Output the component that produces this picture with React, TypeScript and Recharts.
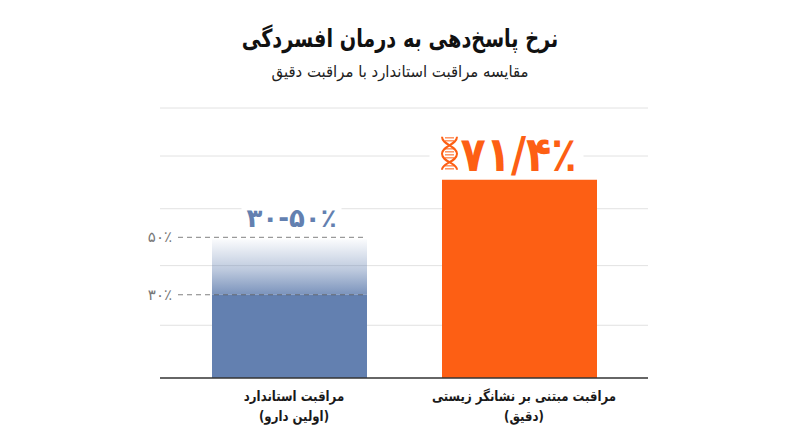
import React from 'react';
import { BarChart, Bar, XAxis, YAxis, CartesianGrid, ReferenceLine, LabelList, Cell } from 'recharts';

const titleText = 'نرخ پاسخ‌دهی به درمان افسردگی';
const subtitleText = 'مقایسه مراقبت استاندارد با مراقبت دقیق';
const categories = ['standard', 'precision'];
const categoryLines = [
  ['مراقبت استاندارد', '(اولین دارو)'],
  ['مراقبت مبتنی بر نشانگر زیستی', '(دقیق)'],
];
const baseValues = [30, 71.4];
const rangeValues = [20, 0];
const valueLabels = ['۳۰-۵۰٪', '۷۱/۴٪'];
const gridValues = [19, 40.5, 61, 80, 97.3];
const dashLevels = [30, 50.7];
const dashLabels = ['۳۰٪', '۵۰٪'];

const data = categories.map((name, i) => ({ name, base: baseValues[i], range: rangeValues[i] }));

const FONT = '"DejaVu Sans", sans-serif';
const BLUE = '#6380b0';
const ORANGE = '#fd5f14';

const CategoryTick = (props: any) => {
  const lines = categoryLines[props.index] || [];
  return (
    <g transform={`translate(${props.x + 5} ${props.y}) scale(0.84 1)`}>
      <text textAnchor="middle" direction="rtl" fontFamily={FONT} fontWeight={700} fontSize={14} fill="#1a1a1a">
        {lines.map((l, i) => (
          <tspan key={i} x={0} y={15 + i * 20}>{l}</tspan>
        ))}
      </text>
    </g>
  );
};

const LevelTick = (props: any) => {
  const i = dashLevels.indexOf(props.payload.value);
  return (
    <text x={172} y={props.y + 5} textAnchor="end" fontFamily={FONT} fontSize={15} fill="#777777" direction="ltr">
      {dashLabels[i]}
    </text>
  );
};

const DashShape = (props: any) => (
  <line x1={178} x2={367} y1={props.y1} y2={props.y2} stroke="#555555" strokeOpacity={0.75} strokeDasharray="5 4" strokeWidth={1} />
);

const Helix = ({ x, y }: { x: number; y: number }) => (
  <g stroke={ORANGE} fill="none" strokeWidth={2}>
    <path d={`M${x} ${y} C${x} ${y + 8} ${x + 15} ${y + 9} ${x + 15} ${y + 17} C${x + 15} ${y + 25} ${x} ${y + 26} ${x} ${y + 33}`} />
    <path d={`M${x + 15} ${y} C${x + 15} ${y + 8} ${x} ${y + 9} ${x} ${y + 17} C${x} ${y + 25} ${x + 15} ${y + 26} ${x + 15} ${y + 33}`} />
    {[1, 4, 12, 15, 18, 21, 29, 32].map((d) => (
      <line key={d} x1={x + 3} x2={x + 12} y1={y + d} y2={y + d} strokeWidth={1} />
    ))}
  </g>
);

const RangeLabel = (props: any) => {
  const { x, y, width, index } = props;
  if (index !== 0) return null;
  const cx = x + width / 2;
  return (
    <g>
      <rect x={cx - 48} y={y - 35} width={100} height={30} fill="#ffffff" />
      <text x={cx + 2} y={y - 12} textAnchor="middle" direction="ltr" fontFamily={FONT} fontWeight={700} fontSize={26} fill={BLUE}>
        {valueLabels[0]}
      </text>
    </g>
  );
};

const PeakLabel = (props: any) => {
  const { x, y, width, index } = props;
  if (index !== 1) return null;
  const cx = x + width / 2;
  return (
    <g>
      <rect x={cx - 90} y={y - 46} width={154} height={40} fill="#ffffff" />
      <Helix x={x} y={y - 43} />
      <g transform={`translate(${cx - 1} ${y - 9}) scale(0.94 1.1)`}>
        <text textAnchor="middle" direction="ltr" fontFamily={FONT} fontWeight={700} fontSize={44} fill={ORANGE}>
          {valueLabels[1]}
        </text>
      </g>
    </g>
  );
};

export default function App() {
  return (
    <div style={{ position: 'absolute', left: 0, top: 0, width: 800, height: 447, background: '#ffffff', overflow: 'hidden' }}>
      <div dir="rtl" style={{ position: 'absolute', top: 24, left: 0, width: 800, textAlign: 'center', fontFamily: FONT, fontWeight: 700, fontSize: 25, color: '#111111', transform: 'scaleX(0.77)' }}>
        {titleText}
      </div>
      <div dir="rtl" style={{ position: 'absolute', top: 62, left: 0, width: 800, textAlign: 'center', fontFamily: FONT, fontSize: 16, color: '#222222', transform: 'scaleX(0.93)' }}>
        {subtitleText}
      </div>
      <BarChart width={800} height={447} data={data} margin={{ top: 108, right: 152, bottom: 0, left: 120 }} barSize={155}>
        <defs>
          <linearGradient id="rangeFade" x1="0" y1="0" x2="0" y2="1">
            <stop offset="0%" stopColor={BLUE} stopOpacity={0.03} />
            <stop offset="55%" stopColor={BLUE} stopOpacity={0.42} />
            <stop offset="100%" stopColor={BLUE} stopOpacity={0.85} />
          </linearGradient>
        </defs>
        <CartesianGrid vertical={false} stroke="#e2e2e2" horizontalValues={gridValues} />
        <XAxis dataKey="name" height={69} padding={{ left: 14, right: 14 }} axisLine={{ stroke: '#333333', strokeWidth: 1.5 }} tickLine={false} tick={<CategoryTick />} interval={0} />
        <YAxis width={40} domain={[0, 97.3]} ticks={dashLevels} axisLine={false} tickLine={false} tick={<LevelTick />} />
        <Bar dataKey="base" stackId="a" isAnimationActive={false}>
          <Cell fill={BLUE} />
          <Cell fill={ORANGE} />
          <LabelList dataKey="base" content={<PeakLabel />} />
        </Bar>
        <Bar dataKey="range" stackId="a" fill="url(#rangeFade)" isAnimationActive={false}>
          <LabelList dataKey="range" content={<RangeLabel />} />
        </Bar>
        {dashLevels.map((v) => (
          <ReferenceLine key={v} y={v} shape={<DashShape />} />
        ))}
      </BarChart>
    </div>
  );
}
